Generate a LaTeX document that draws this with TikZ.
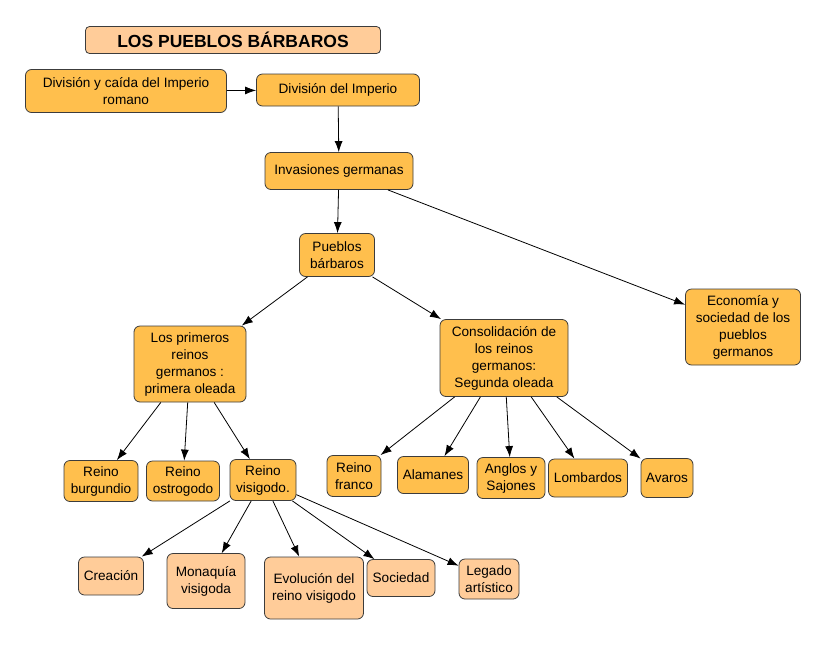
\documentclass[tikz,border=0pt]{standalone}
\usepackage{fontspec}
\setmainfont{Liberation Sans}
\usetikzlibrary{arrows.meta}
\definecolor{boxorange}{RGB}{255,191,77}
\definecolor{boxpeach}{RGB}{255,204,153}
\definecolor{boxline}{RGB}{60,60,60}

\begin{document}
\begin{tikzpicture}[x=1pt, y=-1pt, line width=0.8pt, font=\fontsize{13.6}{17}\selectfont, >={Latex[length=11pt,width=8pt]}, main/.style = {draw=boxline, fill=boxorange, rounded corners=6pt, align=center, inner sep=1pt}, sub/.style = {main, fill=boxpeach}, heading/.style = {sub, rounded corners=4pt, font=\fontsize{17.5}{20}\selectfont\bfseries}]
\useasboundingbox (0,0) rectangle (827,646);

\node[heading, minimum width=295pt, minimum height=27pt] (titulo) at (233,40) {LOS PUEBLOS BÁRBAROS};

\node[main, minimum width=201pt, minimum height=43pt] (caida) at (126,91) {División y caída del Imperio\\romano};
\node[main, minimum width=163pt, minimum height=32pt] (imperio) at (338,90) {División del Imperio};
\node[main, minimum width=148pt, minimum height=37pt] (invasiones) at (339,171) {Invasiones germanas};
\node[main, minimum width=75pt, minimum height=43pt] (pueblos) at (337,255) {Pueblos\\bárbaros};
\node[main, minimum width=112pt, minimum height=76pt] (primeros) at (190,364) {Los primeros\\reinos\\germanos :\\primera oleada};
\node[main, minimum width=128pt, minimum height=77pt] (consolidacion) at (504,358) {Consolidación de\\los reinos\\germanos:\\Segunda oleada};
\node[main, minimum width=115pt, minimum height=76pt] (economia) at (743,327) {Economía y\\sociedad de los\\pueblos\\germanos};

\node[main, minimum width=74pt, minimum height=41pt] (burgundio) at (101,481) {Reino\\burgundio};
\node[main, minimum width=73pt, minimum height=40pt] (ostrogodo) at (183,481) {Reino\\ostrogodo};
\node[main, minimum width=66pt, minimum height=41pt] (visigodo) at (263,480) {Reino\\visigodo.};

\node[main, minimum width=54pt, minimum height=41pt] (franco) at (354,476) {Reino\\franco};
\node[main, minimum width=71pt, minimum height=37pt] (alamanes) at (433,475) {Alamanes};
\node[main, minimum width=68pt, minimum height=41pt] (anglos) at (511,478) {Anglos y\\Sajones};
\node[main, minimum width=79pt, minimum height=38pt] (lombardos) at (588,478) {Lombardos};
\node[main, minimum width=52pt, minimum height=39pt] (avaros) at (667,478) {Avaros};

\node[sub, minimum width=65pt, minimum height=38pt] (creacion) at (111,576) {Creación};
\node[sub, minimum width=78pt, minimum height=55pt] (monarquia) at (206,581) {Monaquía\\visigoda};
\node[sub, minimum width=99pt, minimum height=62pt] (evolucion) at (314,588) {Evolución del\\reino visigodo};
\node[sub, minimum width=68pt, minimum height=37pt] (sociedad) at (401,578) {Sociedad};
\node[sub, minimum width=60pt, minimum height=40pt] (legado) at (489,579) {Legado\\artístico};

\draw[->] (caida) -- (imperio);
\draw[->] (imperio) -- (invasiones);
\draw[->] (invasiones) -- (pueblos);
\draw[->] (invasiones) -- (economia);
\draw[->] (pueblos) -- (primeros);
\draw[->] (pueblos) -- (consolidacion);
\draw[->] (primeros) -- (burgundio);
\draw[->] (primeros) -- (ostrogodo);
\draw[->] (primeros) -- (visigodo);
\draw[->] (consolidacion) -- (franco);
\draw[->] (consolidacion) -- (alamanes);
\draw[->] (consolidacion) -- (anglos);
\draw[->] (consolidacion) -- (lombardos);
\draw[->] (consolidacion) -- (avaros);
\draw[->] (visigodo) -- (creacion);
\draw[->] (visigodo) -- (monarquia);
\draw[->] (visigodo) -- (evolucion);
\draw[->] (visigodo) -- (sociedad);
\draw[->] (visigodo) -- (legado);
\end{tikzpicture}
\end{document}
